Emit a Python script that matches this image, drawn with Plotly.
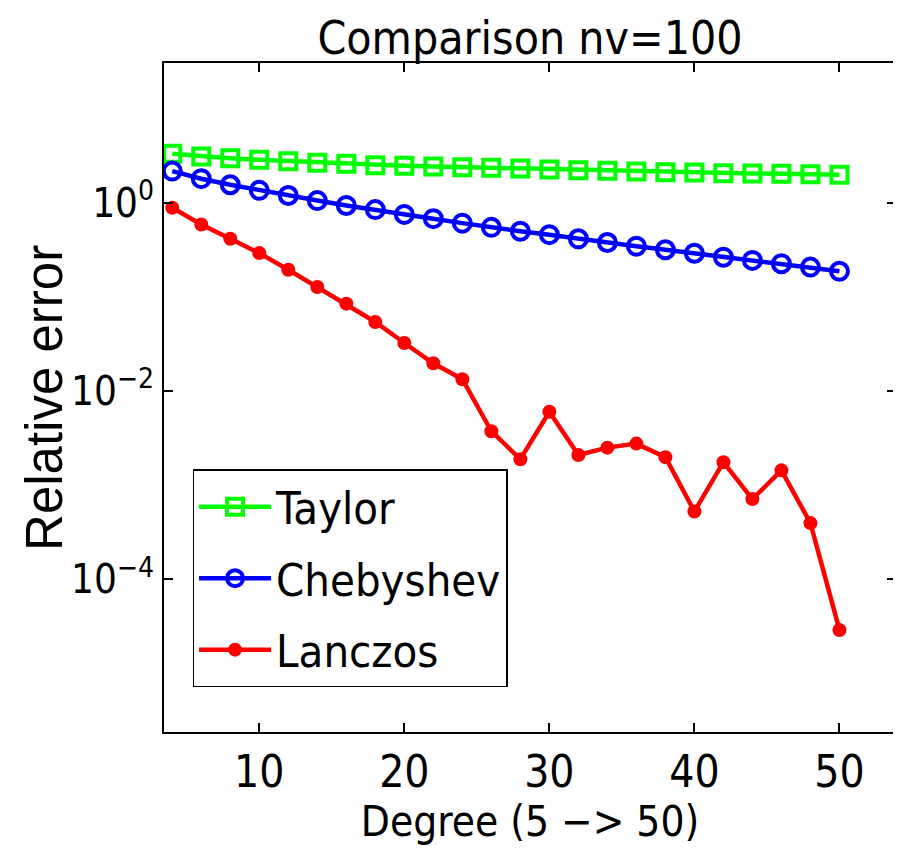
import plotly.graph_objects as go

degree = [4, 6, 8, 10, 12, 14, 16, 18, 20, 22, 24, 26, 28, 30, 32, 34, 36, 38, 40, 42, 44, 46, 48, 50]
taylor = [3.33, 3.12, 2.99, 2.87, 2.78, 2.67, 2.61, 2.52, 2.48, 2.44, 2.40, 2.36,
          2.32, 2.27, 2.23, 2.20, 2.16, 2.12, 2.11, 2.07, 2.06, 2.04, 2.02, 1.99]
chebyshev = [2.18, 1.81, 1.56, 1.36, 1.20, 1.06, 0.94, 0.85, 0.755, 0.68, 0.61, 0.55,
             0.50, 0.46, 0.416, 0.38, 0.347, 0.318, 0.292, 0.265, 0.245, 0.226, 0.208, 0.188]
lanczos = [0.889, 0.591, 0.417, 0.293, 0.195, 0.128, 0.0851, 0.0543, 0.0325, 0.0198, 0.0134, 0.00375,
           0.00189, 0.00604, 0.0021, 0.00251, 0.00277, 0.00199, 0.000527, 0.00176, 0.000714, 0.00144,
           0.000396, 2.9e-5]

x_ticks = [10, 20, 30, 40, 50]
y_tickvals = [1e-4, 1e-2, 1]
y_ticktext = ["10<sup>−4</sup>", "10<sup>−2</sup>", "10<sup>0</sup>"]

COND = "DejaVu Sans Condensed, DejaVu Sans, sans-serif"
SANS = "Liberation Sans, Arial, sans-serif"

fig = go.Figure()
fig.add_trace(go.Scatter(x=degree, y=taylor, name="Taylor", mode="lines+markers", legendgroup="a",
                         line=dict(color="#00ff00", width=4.5),
                         marker=dict(symbol="square-open", size=16, color="#00ff00",
                                     line=dict(width=4, color="#00ff00"))))
fig.add_trace(go.Scatter(x=degree, y=chebyshev, name="Chebyshev", mode="lines+markers", legendgroup="b",
                         line=dict(color="#0000ff", width=4.5),
                         marker=dict(symbol="circle-open", size=17, color="#0000ff",
                                     line=dict(width=4, color="#0000ff"))))
fig.add_trace(go.Scatter(x=degree, y=lanczos, name="Lanczos", mode="lines+markers", legendgroup="c",
                         line=dict(color="#ff0000", width=4.5),
                         marker=dict(symbol="circle", size=14, color="#ff0000")))

fig.update_layout(
    width=893, height=841,
    margin=dict(l=156, r=5, t=55, b=117),
    paper_bgcolor="white", plot_bgcolor="white",
    title=dict(text="Comparison nv=100", x=0.5846, xanchor="center", y=0.965, yanchor="middle",
               font=dict(family=COND, size=46, color="black")),
    showlegend=True,
    legend=dict(x=0.039, y=0.3925, xanchor="left", yanchor="top",
                bgcolor="white", bordercolor="black", borderwidth=1.5,
                font=dict(family=COND, size=45, color="black"),
                itemwidth=72, tracegroupgap=10, traceorder="grouped"),
    annotations=[dict(text="Relative error", xref="paper", yref="paper", x=-0.1626, y=0.4993,
                      xanchor="center", yanchor="middle", textangle=-90, showarrow=False,
                      font=dict(family=SANS, size=51, color="black"))],
)
fig.update_xaxes(range=[3.43, 53.9], tickvals=x_ticks, ticks="inside", ticklen=9, tickwidth=1.5,
                 tickcolor="black", showline=True, linewidth=2, linecolor="black", mirror="ticks",
                 showgrid=False, zeroline=False, automargin=False,
                 tickfont=dict(family=COND, size=44, color="black"),
                 title=dict(text="Degree (5 −> 50)", font=dict(family=COND, size=42, color="black"),
                            standoff=6))
fig.update_yaxes(type="log", range=[-5.622, 1.487], tickvals=y_tickvals, ticktext=y_ticktext,
                 ticks="inside", ticklen=9, tickwidth=1.5, tickcolor="black",
                 showline=True, linewidth=2, linecolor="black", mirror="ticks",
                 showgrid=False, zeroline=False, automargin=False,
                 tickfont=dict(family=COND, size=40, color="black"))

fig.write_html("out.html")
